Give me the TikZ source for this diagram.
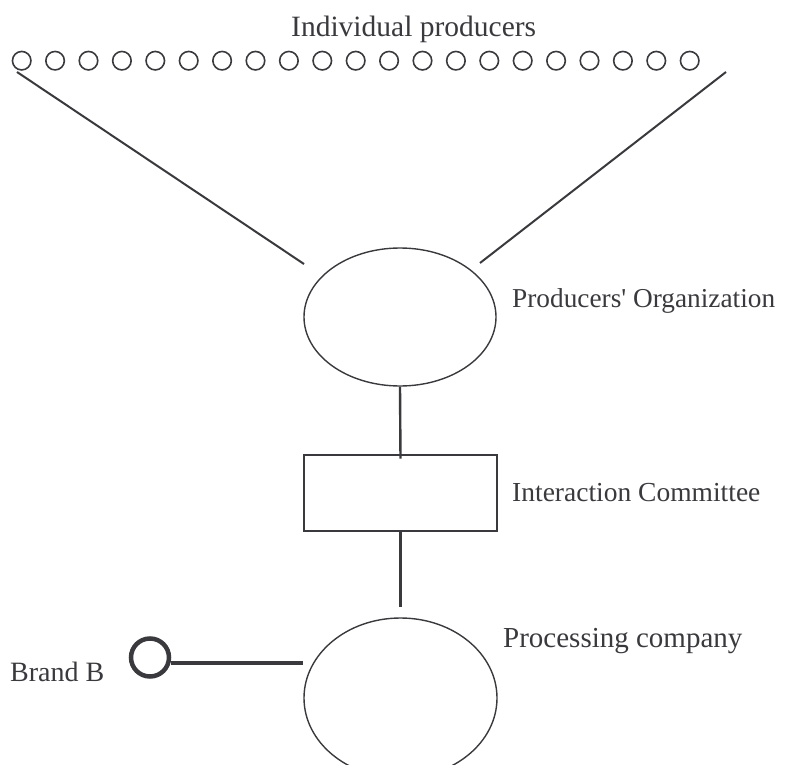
\documentclass[tikz,border=0pt]{standalone}
\usepackage{fontspec}
\setmainfont{Liberation Serif}
\usetikzlibrary{shapes.geometric,calc}
\definecolor{ink}{RGB}{58,58,62}
\begin{document}
\begin{tikzpicture}[x=1pt,y=-1pt,
  lbl/.style={anchor=base west,inner sep=0pt,text=ink,font=\fontsize{28}{32}\selectfont},
  prod/.style={circle,draw=ink,line width=1.6pt,minimum size=18.5pt,inner sep=0pt},
  oval/.style={ellipse,draw=ink,line width=1.4pt,inner sep=0pt},
  link/.style={draw=ink,line width=2pt},
  box/.style={rectangle,draw=ink,line width=2.6pt,inner sep=0pt}]
\useasboundingbox (0,0) rectangle (796,765);
\node[lbl,font=\fontsize{29.5}{32}\selectfont] (t1) at (291,37) {Individual producers};
\foreach \i in {0,...,20} {
  \node[prod] (p\i) at ({21.7+33.4*\i},60.7) {};
}
\node[oval,minimum width=192pt,minimum height=138pt] (po) at (400,317) {};
\node[lbl,font=\fontsize{27.3}{32}\selectfont] (t2) at (512,307) {Producers\textquotesingle{} Organization};
\coordinate (la) at (17,72);
\coordinate (lb) at (304,264);
\coordinate (ra) at (726,72);
\coordinate (rb) at (480,263);
\draw[link] (la) -- (lb);
\draw[link] (ra) -- (rb);
\node[box,minimum width=193pt,minimum height=76pt] (ic) at (400.5,493) {};
\node[lbl,font=\fontsize{27.5}{32}\selectfont] (t3) at (512,501) {Interaction Committee};
\node[oval,minimum width=193pt,minimum height=160pt] (pc) at (400.5,698) {};
\node[lbl,font=\fontsize{29}{32}\selectfont] (t4) at (503,647) {Processing company};
\draw[link,line width=2.4pt] (po.south) -- ([yshift=-5pt]ic.north);
\draw[link,line width=2.4pt] (ic.south) -- ([yshift=10pt]pc.north);
\node[circle,draw=ink,line width=4.5pt,minimum size=38pt,inner sep=0pt] (bb) at (150,657.5) {};
\node[lbl] (t5) at (10,681) {Brand B};
\coordinate (be) at (pc.west |- 0,663);
\draw[draw=ink,line width=4.5pt] ([yshift=-5.5pt]bb.east) -- (be);
\end{tikzpicture}
\end{document}
